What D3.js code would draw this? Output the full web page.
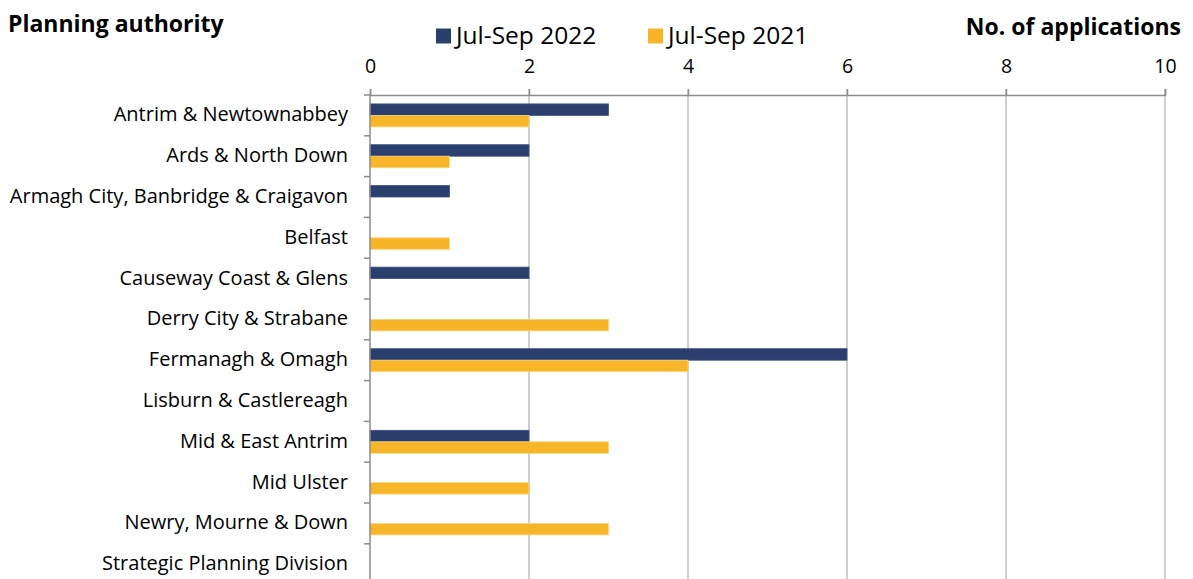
<!DOCTYPE html>
<html><head><meta charset="utf-8">
<script src="https://cdn.jsdelivr.net/npm/d3@7"></script>
<style>body{margin:0;background:#fff;}svg{display:block;font-family:"Open Sans", sans-serif;}</style>
</head><body>
<svg id="c" width="1193" height="579"></svg>
<script>
const categories = ["Antrim & Newtownabbey","Ards & North Down","Armagh City, Banbridge & Craigavon","Belfast","Causeway Coast & Glens","Derry City & Strabane","Fermanagh & Omagh","Lisburn & Castlereagh","Mid & East Antrim","Mid Ulster","Newry, Mourne & Down","Strategic Planning Division"];
const series2022 = [3,2,1,0,2,0,6,0,2,0,0,0];
const series2021 = [2,1,0,1,0,3,4,0,3,2,3,0];
const seriesNames = ["Jul-Sep 2022","Jul-Sep 2021"];
const colors = ["#2B3F6E","#F7B52A"];
const xTicks = [0,2,4,6,8,10];

const FONT = "'Open Sans', sans-serif";
const svg = d3.select("#c");
const mLeft = 370, mRight = 1165, mTop = 95, band = 40.8;
const x = d3.scaleLinear().domain([0,10]).range([mLeft,mRight]);
const y = d3.scaleBand().domain(categories).range([mTop, mTop + band*categories.length]).paddingInner(0).paddingOuter(0);
const barH = 11.5;

// gridlines
svg.append("g").selectAll("line").data(xTicks.slice(1)).join("line")
  .attr("x1",d=>x(d)).attr("x2",d=>x(d)).attr("y1",mTop-6).attr("y2",600)
  .attr("stroke","#BFBFBF").attr("stroke-width",1.5);

// top axis
const xAxis = d3.axisTop(x).tickValues(xTicks).tickSize(6).tickPadding(16).tickFormat(d3.format("d"));
const gx = svg.append("g").attr("transform",`translate(0,${mTop})`).call(xAxis);
gx.select(".domain").attr("stroke","#8C8C8C").attr("stroke-width",1.5);
gx.selectAll(".tick line").attr("stroke","#8C8C8C").attr("stroke-width",1.5);
gx.selectAll("text").attr("font-size",19.5).attr("fill","#000").attr("font-family",FONT).attr("dy","0");

// bars
const data = categories.map((c,i)=>({c, v:[series2022[i], series2021[i]]}));
const g = svg.append("g");
data.forEach(d=>{
  const cy = y(d.c) + y.bandwidth()/2;
  d.v.forEach((v,j)=>{
    if(v<=0) return;
    g.append("rect").attr("x",x(0)).attr("y", cy - barH + j*barH).attr("width", x(v)-x(0)).attr("height", barH)
     .attr("fill", colors[j]).attr("stroke", j===0?"#3E5382":"#FAD57E").attr("stroke-width",0.8);
  });
});

// left axis
const yAxis = d3.axisLeft(y).tickSize(0).tickPadding(22);
const gy = svg.append("g").attr("transform",`translate(${mLeft},0)`).call(yAxis);
gy.select(".domain").remove();
gy.selectAll("text").attr("font-size",20).attr("fill","#000").attr("font-family",FONT).attr("dy","0.3em");
svg.append("line").attr("x1",mLeft).attr("x2",mLeft).attr("y1",mTop).attr("y2",600).attr("stroke","#8C8C8C").attr("stroke-width",1.5);
svg.append("g").selectAll("line").data(d3.range(categories.length+1)).join("line")
  .attr("x1",mLeft-6).attr("x2",mLeft).attr("y1",i=>mTop+i*band).attr("y2",i=>mTop+i*band)
  .attr("stroke","#8C8C8C").attr("stroke-width",1.5);

// titles
svg.append("text").attr("x",8).attr("y",32).attr("font-size",23).attr("font-weight","bold").text("Planning authority");
svg.append("text").attr("x",1181).attr("y",35).attr("text-anchor","end").attr("font-size",23).attr("font-weight","bold").text("No. of applications");

// legend
const legX = [436, 648];
seriesNames.forEach((n,j)=>{
  svg.append("rect").attr("x",legX[j]).attr("y",28.5).attr("width",15).attr("height",15).attr("fill",colors[j]);
  svg.append("text").attr("x",legX[j]+20).attr("y",43.5).attr("font-size",24.5).text(n);
});
</script>
</body></html>
